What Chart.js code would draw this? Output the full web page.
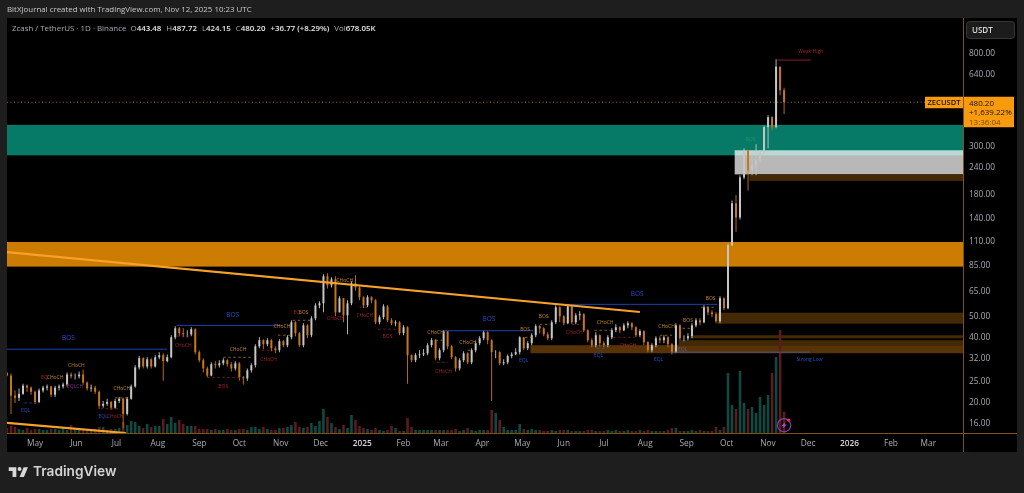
<!DOCTYPE html>
<html>
<head>
<meta charset="utf-8">
<title>ZECUSDT</title>
<script src="https://cdn.jsdelivr.net/npm/chart.js@4"></script>
<style>
  html, body { margin: 0; padding: 0; width: 1024px; height: 493px; overflow: hidden; background: #1e1e1e; font-family: "Open Sans", sans-serif; }
  #pane { position: absolute; left: 7px; top: 18px; width: 1010px; height: 434px; background: #000; }
  #chart { position: absolute; left: 0; top: 0; }
  #credit { position: absolute; left: 7px; top: 4px; font-size: 7.9px; color: #c9c9c9; white-space: nowrap; }
  #legend { position: absolute; left: 12px; top: 23px; font-size: 7.9px; color: #a8abb3; white-space: nowrap; }
  #legend b { color: #e8e8e8; font-weight: 600; margin-right: 5px; }
  #logo { position: absolute; left: 8px; top: 465px; }
  #brand { position: absolute; left: 33px; top: 463px; font: 600 13.7px "Inter", sans-serif; color: #d4d4d4; }
</style>
</head>
<body>
<div id="pane"></div>
<canvas id="chart" width="1024" height="493"></canvas>
<div id="credit">BitXJournal created with TradingView.com, Nov 12, 2025 10:23 UTC</div>
<div id="legend">Zcash / TetherUS · 1D · Binance &nbsp;O<b>443.48</b>H<b>487.72</b>L<b>424.15</b>C<b>480.20</b><b>+36.77 (+8.29%)</b>Vol<b>678.05K</b></div>
<svg id="logo" width="21" height="13" viewBox="0 0 36 24"><path fill="#d8d8d8" d="M14 22H7V11H0V4h14v18zM28 22h-8l7.5-18h8L28 22z"/><circle fill="#d8d8d8" cx="20" cy="7.5" r="3.6"/></svg>
<div id="brand">TradingView</div>

<script>
// candles are sampled every 3 days, day 0 = 1 May 2024
const firstDay = -21
const stepDays = 3

const closes = [
  26.7, 21.6, 21.1, 22.0, 24.0, 23.5, 22.5, 20.2, 22.8, 23.5,
  23.8, 21.8, 23.5, 23.8, 24.3, 27.0, 26.5, 26.5, 27.0, 24.8,
  23.3, 23.5, 22.5, 19.4, 19.8, 20.2, 19.0, 20.4, 20.9, 17.8,
  20.9, 23.8, 29.1, 32.1, 29.4, 31.7, 29.4, 32.4, 33.1, 31.1,
  32.4, 40.0, 44.0, 41.8, 41.3, 41.3, 43.6, 34.2, 31.4, 28.8,
  26.7, 30.1, 29.8, 30.4, 31.4, 30.1, 28.8, 30.4, 26.2, 25.9,
  28.2, 29.8, 36.4, 38.8, 37.2, 38.8, 35.6, 34.9, 38.4, 36.8,
  40.0, 46.9, 41.8, 36.8, 45.4, 40.9, 48.9, 56.1, 57.3, 76.3,
  69.3, 73.9, 52.1, 60.5, 50.5, 57.3, 70.8, 67.8, 61.1, 56.1,
  61.1, 59.2, 46.9, 49.5, 55.5, 47.9, 46.4, 46.9, 41.8, 44.5,
  33.1, 31.4, 33.1, 33.4, 33.8, 36.8, 38.8, 32.1, 34.9, 42.7,
  36.4, 32.4, 28.8, 31.4, 33.8, 30.7, 34.9, 37.6, 39.6, 42.2,
  38.8, 34.2, 34.2, 30.4, 30.7, 32.8, 33.4, 34.2, 40.0, 35.6,
  37.6, 40.9, 45.0, 44.0, 41.3, 39.6, 46.9, 55.0, 50.0, 46.4,
  55.5, 46.9, 50.5, 51.1, 43.1, 38.8, 36.8, 40.9, 37.6, 36.8,
  40.0, 43.1, 44.5, 43.1, 45.4, 46.4, 44.5, 40.9, 42.7, 38.0,
  34.9, 36.8, 39.6, 38.8, 40.0, 37.2, 34.2, 45.4, 39.6, 39.6,
  40.5, 45.4, 47.9, 46.9, 55.0, 52.1, 51.1, 47.4, 60.5, 54.4,
  106, 165, 142, 217, 289, 234, 247, 260, 283, 369,
  410, 369, 700, 545, 480.2
]
const highs = [
  27.6, 27.3, 22.8, 23.3, 24.5, 24.3, 23.8, 22.8, 23.3, 24.0,
  24.3, 24.0, 24.0, 24.3, 24.8, 27.6, 27.6, 27.3, 27.9, 28.5,
  25.1, 24.3, 24.0, 22.8, 20.4, 20.9, 20.4, 20.9, 21.3, 21.1,
  21.3, 24.3, 29.8, 32.8, 32.4, 32.4, 32.1, 33.1, 34.2, 33.8,
  33.4, 40.9, 45.0, 44.5, 44.0, 43.1, 44.5, 44.0, 34.9, 32.1,
  29.4, 30.7, 31.1, 31.4, 32.1, 31.7, 30.7, 31.1, 30.7, 26.5,
  28.8, 30.4, 37.2, 40.0, 39.2, 39.6, 39.2, 36.4, 39.2, 38.8,
  40.9, 47.9, 47.4, 42.2, 46.4, 45.9, 50.0, 57.3, 58.6, 78.0,
  78.8, 75.5, 76.3, 61.7, 60.5, 59.2, 72.3, 77.1, 68.6, 61.7,
  62.4, 61.7, 59.8, 50.5, 56.7, 56.1, 48.9, 47.9, 47.4, 45.4,
  45.0, 33.4, 33.8, 34.9, 35.3, 37.6, 39.6, 39.2, 35.6, 43.1,
  42.7, 36.8, 32.8, 32.1, 34.5, 34.2, 35.6, 38.4, 40.5, 43.1,
  42.7, 39.2, 34.9, 34.5, 31.7, 33.4, 34.2, 35.6, 40.5, 40.0,
  38.4, 41.8, 45.9, 45.4, 44.5, 42.2, 47.9, 56.1, 55.5, 50.5,
  56.7, 56.1, 51.6, 52.7, 51.6, 43.6, 39.6, 42.2, 41.3, 38.4,
  40.9, 44.0, 45.9, 45.0, 46.4, 47.4, 46.9, 45.0, 43.6, 43.1,
  38.4, 37.6, 40.5, 40.5, 40.9, 40.5, 37.6, 46.4, 45.9, 40.9,
  41.8, 46.4, 48.9, 48.9, 56.1, 55.5, 53.2, 52.1, 61.7, 61.1,
  108, 170, 180, 222, 295, 289, 289, 308, 289, 376,
  418, 414, 757, 688, 560
]
const lows = [
  26.5, 17.8, 20.0, 20.4, 21.8, 22.5, 21.8, 19.8, 20.0, 22.3,
  22.8, 21.3, 21.3, 22.8, 23.3, 23.8, 25.9, 25.6, 25.9, 24.3,
  22.8, 22.5, 22.0, 18.8, 19.0, 19.4, 18.6, 18.8, 20.0, 15.3,
  17.5, 20.7, 23.5, 28.5, 28.8, 28.8, 28.8, 29.1, 31.7, 25.3,
  30.7, 32.1, 39.2, 40.5, 40.0, 40.0, 40.5, 33.4, 30.7, 27.6,
  26.2, 26.5, 28.8, 29.1, 29.8, 29.4, 27.9, 28.2, 25.3, 24.3,
  25.3, 27.6, 29.1, 35.6, 35.3, 36.4, 34.5, 33.8, 34.2, 36.0,
  36.0, 39.2, 40.5, 36.0, 36.0, 39.6, 40.0, 47.9, 54.4, 52.1,
  67.1, 67.8, 50.0, 52.1, 46.9, 41.3, 56.1, 65.7, 59.2, 54.4,
  55.0, 57.3, 45.9, 45.9, 48.4, 46.9, 45.4, 45.0, 40.9, 40.9,
  24.5, 30.7, 30.7, 32.1, 32.8, 33.1, 36.0, 31.4, 31.4, 34.2,
  35.3, 31.7, 27.9, 28.2, 30.7, 30.1, 30.1, 34.2, 36.8, 38.8,
  37.2, 20.4, 32.1, 29.8, 29.8, 30.1, 32.1, 33.1, 33.4, 34.9,
  34.9, 36.8, 40.0, 41.8, 40.5, 38.8, 38.8, 45.9, 46.9, 45.4,
  45.9, 45.9, 45.9, 47.9, 42.2, 38.0, 36.0, 36.0, 36.4, 36.0,
  36.0, 39.2, 42.2, 41.8, 42.7, 44.0, 43.1, 40.0, 40.0, 36.8,
  34.2, 34.2, 36.0, 37.6, 37.6, 36.0, 33.4, 33.8, 38.8, 38.4,
  38.8, 39.6, 44.5, 45.4, 46.4, 50.5, 49.5, 46.4, 46.4, 53.2,
  53.8, 105, 122, 139, 213, 189, 222, 222, 255, 274,
  295, 357, 365, 517, 424.15
]
// volume in thousands
const volumes = [
  160, 224, 192, 128, 96, 160, 96, 128, 128, 96,
  96, 128, 128, 96, 160, 96, 256, 160, 96, 128,
  96, 96, 128, 192, 192, 96, 128, 128, 160, 352,
  256, 384, 352, 224, 160, 288, 192, 224, 224, 448,
  288, 512, 320, 416, 288, 224, 224, 224, 128, 128,
  128, 96, 128, 96, 96, 128, 96, 96, 128, 128,
  96, 192, 192, 128, 192, 128, 96, 96, 160, 160,
  192, 256, 352, 192, 160, 192, 320, 224, 384, 768,
  512, 320, 192, 128, 256, 160, 576, 416, 224, 160,
  128, 96, 160, 96, 64, 96, 224, 160, 64, 64,
  480, 192, 96, 96, 96, 96, 96, 96, 96, 96,
  96, 96, 128, 64, 96, 160, 96, 64, 96, 96,
  96, 736, 640, 416, 192, 96, 96, 96, 288, 128,
  96, 128, 96, 96, 64, 64, 96, 64, 96, 96,
  96, 64, 64, 64, 64, 96, 96, 64, 64, 64,
  96, 64, 96, 64, 64, 96, 64, 64, 96, 64,
  96, 64, 64, 64, 64, 96, 160, 160, 64, 64,
  64, 96, 64, 96, 64, 64, 64, 192, 96, 192,
  1920, 896, 768, 1984, 960, 768, 832, 640, 1152, 896,
  1216, 1920, 2432, 3296, 678.05
]

const priceTicks = [800, 640, 300, 240, 180, 140, 110, 85, 65, 50, 40, 32, 25, 20, 16]
const monthDays = [0, 31, 61, 92, 123, 153, 184, 214, 245, 276, 304, 335, 365, 396, 426, 457, 488, 518, 549, 579, 610, 641, 669]
const monthNames = ['May', 'Jun', 'Jul', 'Aug', 'Sep', 'Oct', 'Nov', 'Dec', '2025', 'Feb', 'Mar', 'Apr', 'May', 'Jun', 'Jul', 'Aug', 'Sep', 'Oct', 'Nov', 'Dec', '2026', 'Feb', 'Mar']

// zones: [from day, to day, low price, high price]
const tealZone = [-21, 695, 274, 378]
const whiteZone = [524, 695, 224, 289]
const orangeZone = [-21, 695, 84.5, 109.6]
const brownZones = [
  [535, 695, 209, 224],
  [511, 695, 46.2, 51.9],
  [491, 695, 39.6, 40.9],
  [482, 695, 36.8, 38.8],
  [371, 695, 33.8, 36.8]
]

// lines: [from day, from price, to day, to price]
const trendLines = [
  [-21, 98.4, 453, 52.3],
  [-21, 16.2, 68, 14.55]
]
const bosLines = [
  [-21, 35.3, 99, 35.3],
  [106, 45.4, 185, 45.4],
  [305, 42.9, 373, 42.9],
  [391, 56.7, 511, 56.7]
]
const weakHigh = [556, 750, 581, 750]
const strongLow = [476, 34.2, 580, 34.2]

// horizontal dashes: [from day, to day, price]
const redDashes = [
  [129, 154, 26.2], [106, 116, 40.5], [49, 64, 18.8], [170, 178, 34.9], [257, 272, 43.6],
  [301, 309, 30.7], [402, 410, 45.9], [433, 449, 40.0], [243, 249, 55.0]
]
const orangeDashes = [
  [141, 163, 32.4], [60, 70, 21.1], [182, 191, 40.9], [193, 207, 47.9], [300, 305, 38.8], [324, 328, 34.9],
  [367, 373, 40.0], [378, 386, 45.9], [419, 431, 43.1], [468, 477, 40.9], [499, 509, 55.0], [485, 493, 44.0]
]
const blueDashes = [[-8, 1, 20.0], [421, 429, 35.6]]

// structure labels: [day, price]
const chochOrange = [[15, 26.2], [31, 29.8], [65, 23.3], [152, 35.3], [185, 45.0], [232, 73.1], [300, 42.2], [324, 38.0], [427, 46.9], [473, 45.0]]
const chochRed = [[60, 17.3], [111, 36.8], [175, 31.7], [225, 48.9], [247, 50.5], [306, 27.9], [404, 42.2], [444, 36.8]]
const chochPurple = [[30, 23.8]]
const bosBlue = [[25, 39.6], [148, 50.5], [340, 48.4], [451, 63]]
const bosOrange = [[201, 52.1], [367, 43.6], [381, 50], [489, 47.9], [506, 60.5]]
const bosRed = [[141, 23.8], [264, 40.5]]
const bosGreen = [[536, 325]]
const eqlBlue = [[-7, 18.4], [51, 17.3], [366, 31.4], [422, 33.1], [467, 31.7]]
const eqlRed = [[7, 26.2], [196, 52.1]]
const eqlGrey = [[485, 35.3]]
const weakHighLabel = [581, 820]
const strongLowLabel = [580, 31.7]
const alertMark = [561, 15.8]

const dayOf = i => firstDay + i * stepDays
const opens = closes.map((c, i) => (i === 0 ? 27.5 : closes[i - 1]))
const upColor = '#c6c6c6'
const downColor = '#c8761a'
const candleColors = closes.map((c, i) => (c >= opens[i] ? upColor : downColor))
const volColors = closes.map((c, i) => (c >= opens[i] ? '#0f4a42' : '#5a1c1e'))

const lineSet = (list, color, width, dash) => ({
  type: 'line',
  data: list.flatMap(s => [{ x: s[0], y: s[1] }, { x: s[2], y: s[3] }, { x: s[2], y: NaN }]),
  borderColor: color,
  borderWidth: width,
  borderDash: dash || [],
  pointRadius: 0,
  spanGaps: false,
  tension: 0,
  order: 1
})
const dashSet = (list, color) => lineSet(list.map(d => [d[0], d[2], d[1], d[2]]), color, 0.7, [2.5, 2.5])

const isYear = ctx => ctx.tick && monthNames[monthDays.indexOf(ctx.tick.value)].length === 4

const drawZone = (ctx, x, y, zone, color) => {
  const left = x.getPixelForValue(zone[0])
  const right = x.getPixelForValue(zone[1])
  const top = y.getPixelForValue(zone[3])
  const bottom = y.getPixelForValue(zone[2])
  ctx.fillStyle = color
  ctx.fillRect(left, top, right - left, bottom - top)
}

// horizontal bands sit behind the candles
const zonesPlugin = {
  id: 'zones',
  beforeDatasetsDraw(chart) {
    const { ctx, scales: { x, y } } = chart
    ctx.save()
    drawZone(ctx, x, y, tealZone, '#067a67')
    drawZone(ctx, x, y, orangeZone, '#cc7c00')
    drawZone(ctx, x, y, whiteZone, 'rgba(255,255,255,0.72)')
    brownZones.forEach((z, i) => drawZone(ctx, x, y, z, i === 4 ? '#573407' : '#432905'))
    ctx.restore()
  }
}

const drawLabels = (ctx, x, y, list, text, color, font) => {
  ctx.fillStyle = color
  ctx.font = font
  list.forEach(p => ctx.fillText(text, x.getPixelForValue(p[0]), y.getPixelForValue(p[1])))
}

const annotationsPlugin = {
  id: 'annotations',
  afterDatasetsDraw(chart) {
    const { ctx, chartArea: area, scales: { x, y } } = chart
    const small = '5px "Open Sans"'
    ctx.save()
    ctx.textAlign = 'center'
    ctx.textBaseline = 'middle'
    drawLabels(ctx, x, y, chochOrange, 'CHoCH', '#c8851c', small)
    drawLabels(ctx, x, y, chochRed, 'CHoCH', '#a3222c', small)
    drawLabels(ctx, x, y, chochPurple, 'EQLCH', '#8a2f8f', small)
    drawLabels(ctx, x, y, bosBlue, 'BOS', '#2450c8', '6.5px "Open Sans"')
    drawLabels(ctx, x, y, bosOrange, 'BOS', '#c8851c', small)
    drawLabels(ctx, x, y, bosRed, 'BOS', '#a3222c', small)
    drawLabels(ctx, x, y, bosGreen, 'BOS', '#2a8f6a', small)
    drawLabels(ctx, x, y, eqlBlue, 'EQL', '#2450c8', small)
    drawLabels(ctx, x, y, eqlRed, 'EQ', '#a3222c', small)
    drawLabels(ctx, x, y, eqlGrey, 'EQL', '#5c5c88', small)
    drawLabels(ctx, x, y, [weakHighLabel], 'Weak High', '#a3222c', small)
    drawLabels(ctx, x, y, [strongLowLabel], 'Strong Low', '#2450c8', small)

    // alert badge on the last bar
    const bx = x.getPixelForValue(alertMark[0])
    const by = y.getPixelForValue(alertMark[1])
    ctx.strokeStyle = '#8f3cb4'
    ctx.lineWidth = 1.2
    ctx.beginPath()
    ctx.arc(bx, by, 6.6, 0, Math.PI * 2)
    ctx.stroke()
    ctx.fillStyle = '#b050d8'
    ctx.beginPath()
    ctx.moveTo(bx + 1.5, by - 3.5)
    ctx.lineTo(bx - 2.5, by + 0.7)
    ctx.lineTo(bx - 0.2, by + 0.7)
    ctx.lineTo(bx - 1.5, by + 3.5)
    ctx.lineTo(bx + 2.5, by - 0.7)
    ctx.lineTo(bx + 0.2, by - 0.7)
    ctx.closePath()
    ctx.fill()
    ctx.fillStyle = '#f03030'
    ctx.beginPath()
    ctx.arc(bx + 4.6, by - 5, 1.6, 0, Math.PI * 2)
    ctx.fill()

    // axis separators
    ctx.strokeStyle = '#7c5416'
    ctx.lineWidth = 1
    ctx.beginPath()
    ctx.moveTo(area.right + 0.5, area.top)
    ctx.lineTo(area.right + 0.5, 452)
    ctx.moveTo(area.left, area.bottom + 0.5)
    ctx.lineTo(1017, area.bottom + 0.5)
    ctx.stroke()

    // last price tag
    const last = closes[closes.length - 1]
    const py = y.getPixelForValue(last)
    ctx.fillStyle = '#f89a0e'
    ctx.fillRect(925, py - 5.5, 38, 11.5)
    ctx.fillRect(964, py - 5.5, 50, 30.5)
    ctx.fillStyle = '#1a1205'
    ctx.font = '600 7.6px "Open Sans"'
    ctx.fillText('ZECUSDT', 944, py + 0.5)
    ctx.textAlign = 'left'
    ctx.font = '8px "Open Sans"'
    ctx.fillText(last.toFixed(2), 969, py + 1)
    ctx.fillText('+1,639.22%', 969, py + 10)
    ctx.fillStyle = '#7a4a06'
    ctx.fillText('13:36:04', 969, py + 20)

    // currency button
    ctx.fillStyle = '#1c1c1c'
    ctx.strokeStyle = '#363636'
    ctx.beginPath()
    ctx.roundRect(966.5, 21.5, 48, 17, 3)
    ctx.fill()
    ctx.stroke()
    ctx.fillStyle = '#d8d8d8'
    ctx.font = '600 8px "Open Sans"'
    ctx.fillText('USDT', 972, 30.5)
    ctx.restore()
  }
}

new Chart(document.getElementById('chart').getContext('2d'), {
  type: 'bar',
  data: {
    datasets: [
      {
        yAxisID: 'yVol',
        data: volumes.map((v, i) => ({ x: dayOf(i), y: v })),
        backgroundColor: volColors,
        barThickness: 2.6,
        inflateAmount: 0,
        grouped: false,
        order: 5
      },
      {
        data: lows.map((l, i) => ({ x: dayOf(i), y: [l, highs[i]] })),
        backgroundColor: candleColors,
        barThickness: 0.9,
        inflateAmount: 0,
        grouped: false,
        order: 4
      },
      {
        data: closes.map((c, i) => ({ x: dayOf(i), y: [opens[i], c] })),
        backgroundColor: candleColors,
        barThickness: 2,
        inflateAmount: 0,
        grouped: false,
        order: 3
      },
      lineSet([[firstDay, closes[closes.length - 1], 695, closes[closes.length - 1]]], '#a8650f', 1, [1, 2.5]),
      lineSet(trendLines, '#f7a12c', 2.2),
      lineSet(bosLines, '#1e43b4', 1),
      lineSet([weakHigh], '#8c1f2c', 1),
      lineSet([strongLow], '#55557c', 1),
      dashSet(redDashes, '#a3222c'),
      dashSet(orangeDashes, '#c8851c'),
      dashSet(blueDashes, '#2450c8')
    ]
  },
  options: {
    responsive: false,
    animation: false,
    layout: { padding: { left: 7, right: 7, top: 18, bottom: 41 } },
    plugins: { legend: { display: false }, tooltip: { enabled: false } },
    scales: {
      x: {
        type: 'linear',
        offset: false,
        min: firstDay,
        max: 695,
        grid: { display: false, drawTicks: false },
        border: { display: false },
        afterBuildTicks: s => { s.ticks = monthDays.map(value => ({ value })) },
        afterFit: s => { s.height = 19 },
        ticks: {
          autoSkip: false,
          maxRotation: 0,
          padding: 6,
          color: ctx => (isYear(ctx) ? '#d6d8de' : '#a8abb3'),
          font: ctx => ({ family: '"Open Sans"', size: 8.3, weight: isYear(ctx) ? '600' : '400' }),
          callback: v => monthNames[monthDays.indexOf(v)]
        }
      },
      y: {
        type: 'logarithmic',
        position: 'right',
        bounds: 'data',
        min: 14.55,
        max: 1170,
        grid: { display: false, drawTicks: false },
        border: { display: false },
        afterBuildTicks: s => { s.ticks = priceTicks.map(value => ({ value })) },
        afterFit: s => { s.width = 54 },
        ticks: {
          autoSkip: false,
          padding: 6,
          color: '#a8abb3',
          font: { family: '"Open Sans"', size: 8.3 },
          callback: v => v.toFixed(2)
        }
      },
      yVol: {
        type: 'linear',
        display: false,
        min: 0,
        max: 13280
      }
    }
  },
  plugins: [zonesPlugin, annotationsPlugin]
})
</script>
</body>
</html>
